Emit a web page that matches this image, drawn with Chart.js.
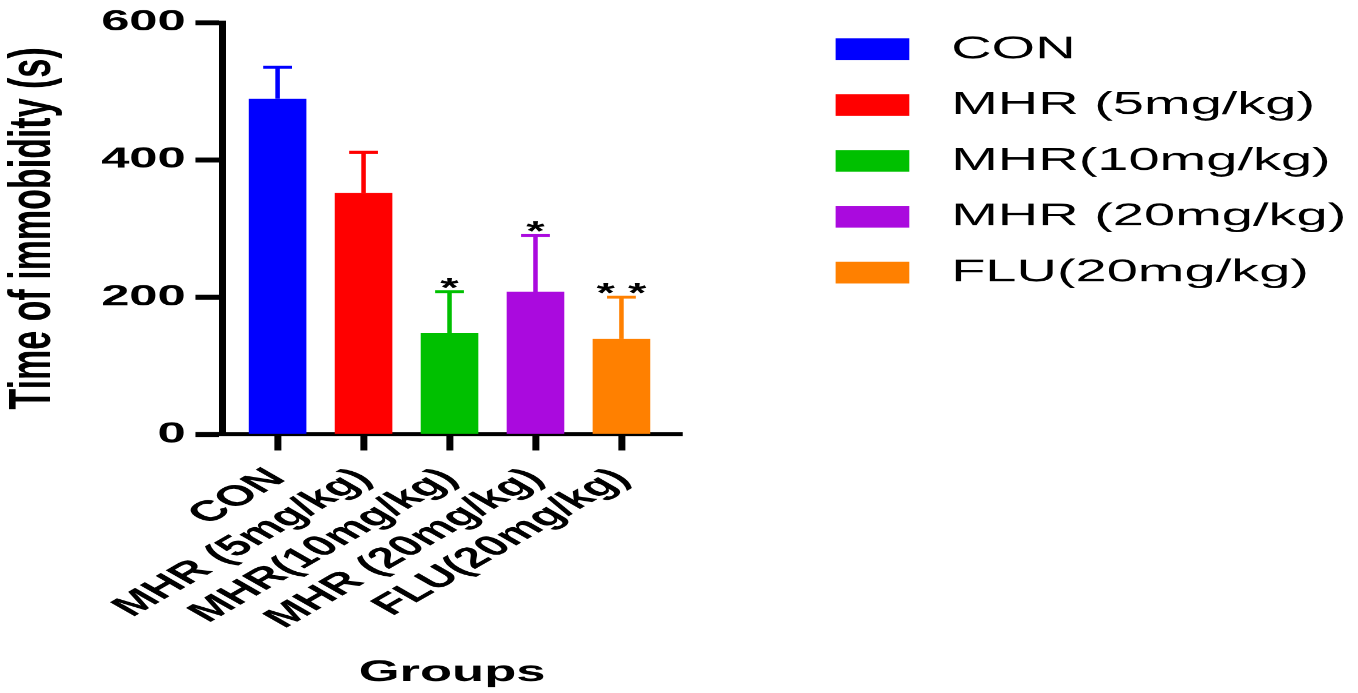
<!DOCTYPE html>
<html>
<head>
<meta charset="utf-8">
<script src="https://cdn.jsdelivr.net/npm/chart.js@4.4.1/dist/chart.umd.min.js"></script>
<style>
  html, body { margin: 0; padding: 0; background: #fff; overflow: hidden; }
  /* the reference figure is stretched sideways, so draw narrow and scale */
  #wrap { width: 776px; height: 693px; transform: scaleX(1.75); transform-origin: 0 0; }
</style>
</head>
<body>
<div id="wrap"><canvas id="myChart"></canvas></div>
<script>
const groups = ['CON', 'MHR (5mg/kg)', 'MHR(10mg/kg)', 'MHR (20mg/kg)', 'FLU(20mg/kg)'];
const means = [489, 352, 148, 208, 139];
const sems = [46, 59, 60, 82, 61];
const marks = ['', '', '*', '*', '* *'];
const colors = ['#0000FF', '#FF0000', '#00C000', '#AA0ADE', '#FF8000'];
const yTicks = [0, 200, 400, 600];

const FONT = '"Liberation Sans", Arial, sans-serif';
Chart.defaults.font.family = FONT;
Chart.defaults.color = '#000';

// error bars (upper only) and significance stars
const errorBars = {
  id: 'errorBars',
  afterDatasetsDraw(chart) {
    const ctx = chart.ctx;
    const y = chart.scales.y;
    chart.data.datasets.forEach((ds, i) => {
      const bar = chart.getDatasetMeta(i).data[0];
      const top = y.getPixelForValue(means[i] + sems[i]);
      const half = bar.width / 4;
      ctx.save();
      ctx.strokeStyle = colors[i];
      ctx.lineWidth = 2.6;
      ctx.beginPath();
      ctx.moveTo(bar.x, bar.y);
      ctx.lineTo(bar.x, top);
      ctx.stroke();
      ctx.lineWidth = 3;
      ctx.beginPath();
      ctx.moveTo(bar.x - half, top);
      ctx.lineTo(bar.x + half, top);
      ctx.stroke();
      if (marks[i]) {
        ctx.fillStyle = '#000';
        ctx.font = 'bold 27px ' + FONT;
        ctx.textAlign = 'center';
        ctx.textBaseline = 'alphabetic';
        ctx.fillText(marks[i], bar.x, top + 5);
      }
      ctx.restore();
    });
  }
};

// legend sits far right of the plot, wider than chart.js allows for a side legend
const sideLegend = {
  id: 'sideLegend',
  afterDraw(chart) {
    const ctx = chart.ctx;
    const x0 = chart.chartArea.right + 88;
    const y0 = chart.chartArea.top + 26.7;
    ctx.save();
    ctx.font = '32px ' + FONT;
    ctx.textBaseline = 'middle';
    ctx.textAlign = 'left';
    groups.forEach((g, i) => {
      const cy = y0 + i * 55.8;
      ctx.fillStyle = colors[i];
      ctx.fillRect(x0, cy - 10.85, 42.1, 21.7);
      ctx.fillStyle = '#000';
      ctx.fillText(g, x0 + 66, cy);
    });
    ctx.restore();
  }
};

const data = {
  datasets: groups.map((g, i) => ({
    label: g,
    data: [{x: i + 1, y: means[i]}],
    backgroundColor: colors[i],
    borderWidth: 0,
    grouped: false,
    categoryPercentage: 1,
    barPercentage: 0.67
  }))
};

const config = {
  type: 'bar',
  data: data,
  plugins: [errorBars, sideLegend],
  options: {
    responsive: true,
    maintainAspectRatio: false,
    animation: false,
    devicePixelRatio: 1.75,
    layout: { padding: { top: 9.4, left: 0, right: 386.5, bottom: 0 } },
    plugins: {
      tooltip: { enabled: false },
      legend: { display: false }
    },
    scales: {
      x: {
        type: 'linear',
        min: 0.36,
        max: 5.7,
        offset: false,
        afterBuildTicks(s) { s.ticks = groups.map((g, i) => ({ value: i + 1 })); },
        grid: { offset: false, drawOnChartArea: false, drawTicks: true, tickLength: 16, tickWidth: 4, tickColor: '#000' },
        border: { color: '#000', width: 4 },
        ticks: {
          maxRotation: 45,
          minRotation: 45,
          padding: 11.3,
          color: '#000',
          font: { size: 29, weight: 'bold', family: FONT },
          callback(v) { return groups[v - 1]; }
        },
        title: {
          display: true,
          text: 'Groups',
          color: '#000',
          font: { size: 30, weight: 'bold', family: FONT },
          padding: { top: 7.9, bottom: 2.5 }
        }
      },
      y: {
        min: 0,
        max: 600,
        afterBuildTicks(s) { s.ticks = yTicks.map(v => ({ value: v })); },
        grid: { drawOnChartArea: false, drawTicks: true, tickLength: 15.5, tickWidth: 5, tickColor: '#000' },
        border: { color: '#000', width: 4 },
        ticks: {
          padding: 5.5,
          color: '#000',
          font: { size: 29, weight: 'bold', family: FONT, lineHeight: '34px' }
        },
        title: {
          display: true,
          text: 'Time of immobidity (s)',
          color: '#000',
          font: { size: 34, weight: 'bold', family: FONT, lineHeight: 1 },
          padding: { top: 2.2, bottom: 16.1 }
        }
      }
    }
  }
};

const myChart = new Chart(document.getElementById('myChart'), config);
</script>
</body>
</html>
